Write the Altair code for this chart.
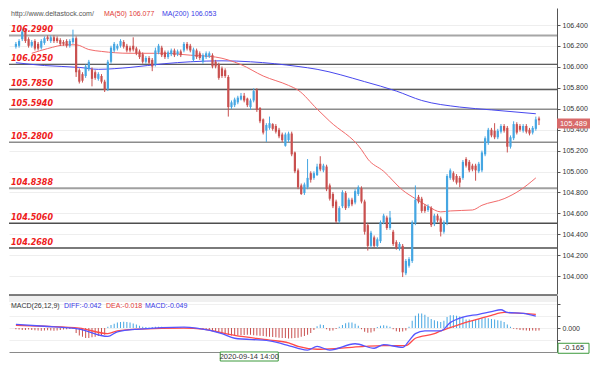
import altair as alt
import pandas as pd

# ---------------- data ----------------
opens = [106.193,106.202,106.265,106.347,106.265,106.202,106.247,106.220,106.184,106.229,
         106.283,106.247,106.283,106.274,106.256,106.238,106.247,106.202,106.238,106.274,
         105.968,105.931,105.913,105.977,105.977,105.949,105.886,105.913,105.859,105.787,
         106.049,106.157,106.175,106.202,106.238,106.202,106.184,106.202,106.175,106.148,
         106.121,106.049,106.085,106.067,106.022,106.139,106.184,106.139,106.094,106.121,
         106.157,106.121,106.148,106.157,106.220,106.202,106.067,106.157,106.130,106.049,
         106.094,106.103,106.112,106.049,106.022,105.986,105.968,105.904,105.616,105.634,
         105.661,105.688,105.724,105.697,105.616,105.679,105.778,105.607,105.498,105.390,
         105.417,105.453,105.435,105.399,105.354,105.246,105.300,105.363,105.182,105.011,
         104.867,104.794,104.849,104.984,104.939,104.966,105.074,105.011,105.047,104.867,
         104.785,104.713,104.523,104.668,104.794,104.668,104.731,104.704,104.785,104.840,
         104.713,104.487,104.289,104.370,104.289,104.334,104.514,104.560,104.460,104.424,
         104.325,104.262,104.289,104.027,104.099,104.145,104.505,104.758,104.740,104.668,
         104.632,104.650,104.496,104.578,104.551,104.424,104.505,104.939,104.984,104.957,
         104.939,104.939,105.119,105.092,105.056,105.056,105.002,105.011,105.164,105.273,
         105.399,105.390,105.327,105.381,105.435,105.417,105.237,105.318,105.453,105.435,
         105.390,105.435,105.399,105.372,105.408,105.507]
highs = [106.238,106.265,106.365,106.365,106.283,106.256,106.265,106.238,106.265,106.292,
         106.302,106.302,106.302,106.292,106.274,106.256,106.265,106.265,106.356,106.292,
         105.986,105.949,106.022,106.067,105.995,105.968,105.949,105.931,105.877,106.067,
         106.202,106.238,106.220,106.265,106.256,106.220,106.202,106.283,106.193,106.166,
         106.139,106.103,106.103,106.085,106.184,106.220,106.202,106.157,106.157,106.175,
         106.175,106.166,106.166,106.238,106.238,106.220,106.184,106.175,106.148,106.130,
         106.148,106.148,106.130,106.067,106.040,106.004,105.986,105.922,105.679,105.706,
         105.724,105.751,105.751,105.706,105.697,105.796,105.796,105.616,105.507,105.462,
         105.525,105.462,105.453,105.417,105.372,105.372,105.381,105.381,105.191,105.029,
         104.885,104.894,105.119,105.002,105.002,105.074,105.146,105.074,105.065,104.885,
         104.803,104.731,104.668,104.821,104.812,104.749,104.749,104.831,104.867,104.858,
         104.731,104.505,104.433,104.388,104.370,104.532,104.596,104.578,104.623,104.442,
         104.343,104.325,104.307,104.163,104.181,104.532,104.867,104.776,104.758,104.686,
         104.686,104.668,104.596,104.596,104.569,104.532,104.975,105.029,105.002,104.975,
         104.957,105.110,105.137,105.110,105.074,105.074,105.092,105.200,105.336,105.417,
         105.417,105.462,105.408,105.453,105.453,105.435,105.345,105.480,105.471,105.453,
         105.453,105.453,105.417,105.435,105.525,105.525]
lows = [106.175,106.184,106.247,106.229,106.184,106.184,106.157,106.157,106.166,106.211,
        106.247,106.229,106.229,106.229,106.202,106.202,106.184,106.184,106.220,105.904,
        105.841,105.850,105.895,105.959,105.814,105.877,105.868,105.841,105.760,105.769,
        106.031,106.139,106.157,106.184,106.175,106.139,106.139,106.148,106.112,106.076,
        106.031,106.031,106.022,105.959,106.004,106.121,106.094,106.076,106.076,106.103,
        106.094,106.103,106.094,106.139,106.157,106.139,106.049,106.076,106.067,106.031,
        106.076,106.085,105.986,105.986,105.877,105.895,105.895,105.525,105.598,105.616,
        105.643,105.679,105.661,105.616,105.589,105.661,105.570,105.462,105.354,105.282,
        105.399,105.390,105.363,105.318,105.282,105.237,105.282,105.146,104.984,104.831,
        104.776,104.776,104.831,104.894,104.921,104.957,105.002,104.993,104.812,104.722,
        104.650,104.505,104.505,104.650,104.632,104.650,104.668,104.686,104.767,104.695,
        104.397,104.244,104.271,104.271,104.271,104.316,104.496,104.442,104.442,104.289,
        104.253,104.244,103.991,104.009,104.081,104.126,104.487,104.695,104.605,104.605,
        104.614,104.469,104.478,104.514,104.379,104.406,104.487,104.921,104.903,104.876,
        104.849,104.921,105.038,104.993,105.002,104.912,104.984,104.993,105.146,105.255,
        105.327,105.309,105.309,105.363,105.372,105.182,105.219,105.300,105.354,105.381,
        105.372,105.363,105.345,105.354,105.390,105.444]
closes = [106.220,106.247,106.338,106.247,106.202,106.238,106.175,106.175,106.247,106.274,
          106.265,106.283,106.247,106.247,106.220,106.220,106.202,106.247,106.274,105.949,
          105.859,105.868,106.004,106.049,105.886,105.895,105.931,105.859,105.778,106.049,
          106.184,106.220,106.202,106.247,106.193,106.157,106.157,106.166,106.130,106.094,
          106.049,106.085,106.040,106.004,106.157,106.202,106.112,106.094,106.139,106.157,
          106.112,106.148,106.112,106.220,106.175,106.157,106.166,106.094,106.085,106.112,
          106.130,106.130,106.004,106.004,105.895,105.913,105.913,105.616,105.661,105.688,
          105.706,105.724,105.679,105.634,105.679,105.769,105.589,105.480,105.372,105.444,
          105.462,105.408,105.381,105.336,105.300,105.354,105.363,105.164,105.002,104.849,
          104.785,104.876,104.939,104.921,104.984,105.047,105.020,105.056,104.831,104.740,
          104.668,104.523,104.650,104.803,104.650,104.731,104.686,104.812,104.849,104.713,
          104.424,104.289,104.415,104.289,104.352,104.514,104.578,104.460,104.560,104.307,
          104.271,104.307,104.036,104.145,104.163,104.514,104.731,104.713,104.623,104.623,
          104.668,104.487,104.578,104.532,104.424,104.514,104.957,105.011,104.921,104.894,
          104.894,105.092,105.056,105.011,105.020,105.011,105.074,105.182,105.318,105.399,
          105.345,105.327,105.390,105.435,105.390,105.237,105.327,105.453,105.372,105.399,
          105.435,105.381,105.363,105.417,105.498,105.489]

ma50_idx = [5,10,16,19,23,27,36,47,55,63,71,78,86,89,95,99,109,111,116,122,126,130,134,137,144,147,154,159,164]
ma50_val = [106.130,106.175,106.211,106.211,106.166,106.148,106.130,106.130,106.112,106.094,106.022,
            105.913,105.823,105.778,105.597,105.480,105.209,105.119,105.002,104.821,104.740,104.668,
            104.614,104.623,104.632,104.677,104.740,104.821,104.939]
ma200_idx = [0,9,20,26,36,47,55,65,74,89,95,110,120,128,140,150,164]
ma200_val = [106.040,106.013,105.995,105.977,105.995,106.031,106.049,106.058,106.049,106.004,
             105.977,105.859,105.769,105.679,105.616,105.589,105.552]

hist = ([-0.010,-0.012,-0.015,-0.015,-0.012,-0.015]
        + [-0.018,-0.020,-0.022,-0.020,-0.018,-0.020,-0.022,-0.020,-0.015,-0.012]
        + [-0.010,-0.008,-0.005]
        + [-0.040,-0.060,-0.070,-0.080,-0.080,-0.075,-0.070,-0.065,-0.060,-0.055]
        + [0.010,0.025,0.035,0.045,0.050,0.052,0.050,0.045,0.038,0.030]
        + [0.020,0.012,0.008,0.005,0.008,0.010,0.012,0.010,0.008,0.006,0.005,0.004,0.003,0.004,0.005,0.003,0.002,0.001]
        + [-0.003,-0.006,-0.010,-0.015,-0.020,-0.025,-0.030,-0.035,-0.040,-0.045,-0.055,-0.060,-0.062,
           -0.060,-0.058,-0.056,-0.055,-0.055,-0.058,-0.060,-0.062,-0.065,-0.068,-0.070,-0.072,-0.075,
           -0.078,-0.080,-0.082,-0.085,-0.083,-0.080,-0.078]
        + [-0.070,-0.065,-0.055,-0.040]
        + [-0.015]
        + [0.015,0.030,0.025]
        + [-0.010,-0.022,-0.020]
        + [-0.008]
        + [0.010,0.025,0.040,0.045,0.045,0.035,0.020]
        + [-0.010,-0.030,-0.038,-0.035,-0.025]
        + [0.008,0.020,0.023,0.020,0.012]
        + [-0.010,-0.025,-0.030,-0.028,-0.020]
        + [0.010,0.060,0.100,0.120,0.120,0.110]
        + [0.090,0.075,0.065,0.055,0.050]
        + [0.060,0.090,0.105,0.105,0.100,0.095,0.090]
        + [0.070,0.070,0.065,0.070,0.075,0.080,0.085,0.080,0.075,0.070,0.065,0.060,0.050]
        + [0.030,0.010]
        + [-0.005,-0.010,-0.015,-0.018,-0.020,-0.022,-0.020,-0.022,-0.020])

diff_idx = [0,9,20,29,32,39,53,57,65,69,80,86,89,92,95,99,107,113,116,122,124,126,129,134,137,141,146,150,153,155,160,164]
diff_val = [0.030,0.015,-0.008,-0.068,-0.030,-0.008,0.008,0.000,-0.045,-0.083,-0.105,-0.143,-0.165,
            -0.180,-0.150,-0.180,-0.128,-0.165,-0.135,-0.158,-0.105,-0.045,-0.023,-0.023,0.045,0.090,
            0.113,0.135,0.150,0.128,0.120,0.098]
dea_idx = [0,9,20,29,32,39,53,59,69,80,86,89,95,102,110,116,123,126,132,134,140,146,150,154,160,164]
dea_val = [0.023,0.015,0.000,-0.045,-0.023,-0.008,0.000,-0.008,-0.060,-0.098,-0.120,-0.150,-0.173,
           -0.165,-0.150,-0.143,-0.143,-0.083,-0.045,-0.023,0.030,0.075,0.105,0.128,0.120,0.113]

level_vals = [106.2990, 106.0250, 105.7850, 105.5940, 105.2800, 104.8388, 104.5060, 104.2680]
level_text = ["106.2990", "106.0250", "105.7850", "105.5940", "105.2800", "104.8388", "104.5060", "104.2680"]
level_color = ["#a6a6a6", "#2e2e2e", "#5a5a5a", "#8c8c8c", "#8c8c8c", "#a0a0a0", "#4e4e4e", "#4e4e4e"]
level_width = [2, 1, 1.5, 1.5, 1.5, 2, 1.5, 1.5]

price_ticks = [104.0, 104.2, 104.4, 104.6, 104.8, 105.0, 105.2, 105.4, 105.6, 105.8, 106.0, 106.2, 106.4]
last_price = 105.489
last_box_center = 105.458
macd_marker = -0.165
crosshair_idx = 73.6
crosshair_label = "2020-09-14 14:00"

N = len(closes)
assert len(opens) == N and len(highs) == N and len(lows) == N and len(hist) == N

# ---------------- layout ----------------
W, HP, HM = 548, 286, 57
X_DOM = [-0.6, 169.1]
P_DOM = [103.829, 106.563]
M_DOM = [-0.1955, 0.2707]
UP, DOWN = "#45a6e2", "#c9504f"
FONT = "Liberation Sans"

candles = pd.DataFrame({"i": list(range(N)), "o": opens, "h": highs, "l": lows, "c": closes})
candles["dir"] = ["up" if c >= o else "down" for o, c in zip(opens, closes)]
ma50 = pd.DataFrame({"i": ma50_idx, "v": ma50_val})
ma200 = pd.DataFrame({"i": ma200_idx, "v": ma200_val})
levels = pd.DataFrame({"v": level_vals, "t": level_text, "col": level_color, "w": level_width})
histdf = pd.DataFrame({"i": list(range(N)), "h": hist})
histdf["sign"] = ["pos" if v >= 0 else "neg" for v in hist]
diffdf = pd.DataFrame({"i": diff_idx, "v": diff_val})
deadf = pd.DataFrame({"i": dea_idx, "v": dea_val})

xs = alt.Scale(domain=X_DOM, nice=False, zero=False)
ys_p = alt.Scale(domain=P_DOM, nice=False, zero=False)
ys_m = alt.Scale(domain=M_DOM, nice=False, zero=False)

y_axis_p = alt.Axis(orient="right", values=price_ticks, format=".3f", labelFontSize=7, labelFont=FONT,
                    labelColor="#333333", tickSize=3, tickColor="#555555", domainColor="#555555",
                    grid=True, gridColor="#eeeeee", labelPadding=2, title=None)
y_axis_m = alt.Axis(orient="right", values=[-0.1, 0.0, 0.1, 0.2],
                    labelExpr="datum.value == 0 ? '0.000' : ''", labelFontSize=7, labelFont=FONT,
                    labelColor="#333333", tickSize=3, tickColor="#555555", domainColor="#555555",
                    grid=True, gridColor="#f0f0f0", labelPadding=2, title=None)

def xp(field="i"):
    return alt.X(f"{field}:Q", scale=xs, axis=None)

def xm(field="i"):
    return alt.X(f"{field}:Q", scale=xs, axis=alt.Axis(labels=False, ticks=False, grid=False,
                                                       domain=True, domainColor="#8a8a8a", title=None))

def yp(field):
    return alt.Y(f"{field}:Q", scale=ys_p, axis=y_axis_p)

def ym(field):
    return alt.Y(f"{field}:Q", scale=ys_m, axis=y_axis_m)

dir_color = alt.Color("dir:N", scale=alt.Scale(domain=["up", "down"], range=[UP, DOWN]), legend=None)

lv_rules = alt.Chart(levels).mark_rule().encode(
    y=yp("v"), color=alt.Color("col:N", scale=None), strokeWidth=alt.StrokeWidth("w:Q", scale=None))
ma200_line = alt.Chart(ma200).mark_line(color="#4848ee", strokeWidth=1, interpolate="monotone").encode(
    x=xp(), y=yp("v"))
ma50_line = alt.Chart(ma50).mark_line(color="#f26a6a", strokeWidth=1, interpolate="monotone").encode(
    x=xp(), y=yp("v"))
wicks = alt.Chart(candles).mark_rule(strokeWidth=1).encode(x=xp(), y=yp("l"), y2="h", color=dir_color)
bodies = alt.Chart(candles).mark_bar(width=2.2).encode(x=xp(), y=yp("o"), y2="c", color=dir_color)
lv_text = alt.Chart(levels).mark_text(align="left", baseline="alphabetic", dy=-3.5, font="DejaVu Sans",
                                      fontStyle="italic", fontWeight="bold", fontSize=8,
                                      color="#ee1c1c").encode(x=alt.value(2), y=yp("v"), text="t:N")

def label(txt, px, py, color, size=7):
    return alt.Chart(pd.DataFrame({"t": [txt]})).mark_text(
        align="left", baseline="middle", font=FONT, fontSize=size, color=color).encode(
        x=alt.value(px), y=alt.value(py), text="t:N")

header = [label("http://www.deltastock.com/", 2, 5.5, "#555555"),
          label("MA(50)", 95, 5.5, "#e23a36"), label("106.077", 120, 5.5, "#e23a36"),
          label("MA(200)", 153, 5.5, "#3a3ae6"), label("106.053", 182, 5.5, "#3a3ae6")]

lp = pd.DataFrame({"p": [last_box_center], "t": [f"{last_price:.3f}"]})
last_box = alt.Chart(lp).mark_tick(color="#d86a6a", thickness=10, size=33, opacity=1).encode(
    x=alt.value(W + 16.5), y=yp("p"))
last_txt = alt.Chart(lp).mark_text(font=FONT, fontSize=7.5, color="#ffffff", baseline="middle").encode(
    x=alt.value(W + 16.5), y=yp("p"), text="t:N")

price = alt.layer(lv_rules, ma200_line, ma50_line, wicks, bodies, lv_text, *header, last_box, last_txt
                  ).properties(width=W, height=HP)

# ---------------- MACD panel ----------------
band = alt.Chart(pd.DataFrame({"a": [0]})).mark_rect(color="#f0f0f0").encode(
    x=alt.value(0), x2=alt.value(W), y=alt.value(0), y2=alt.value(7))
topline = alt.Chart(pd.DataFrame({"a": [0]})).mark_rule(color="#555555", strokeWidth=1.5).encode(
    x=alt.value(0), x2=alt.value(W), y=alt.value(0))
bars = alt.Chart(histdf).mark_bar(width=1).encode(
    x=xm(), y=ym("h"), y2=alt.datum(0),
    color=alt.Color("sign:N", scale=alt.Scale(domain=["pos", "neg"], range=["#7cc2ea", "#d68a8a"]), legend=None))
dea_line = alt.Chart(deadf).mark_line(color="#ff4a4a", strokeWidth=1.3, interpolate="monotone").encode(
    x=xm(), y=ym("v"))
diff_line = alt.Chart(diffdf).mark_line(color="#5555ff", strokeWidth=1.3, interpolate="monotone").encode(
    x=xm(), y=ym("v"))
mheader = [label("MACD(26,12,9)", 2, 11, "#333333"), label("DIFF:-0.042", 55, 11, "#3a3ae6"),
           label("DEA:-0.018", 97, 11, "#e23a36"), label("MACD:-0.049", 136, 11, "#3a3ae6")]
mk = pd.DataFrame({"v": [macd_marker], "t": [f"{macd_marker:.3f}"]})
mk_box = alt.Chart(mk).mark_tick(fill="#ffffff", stroke="#3c9a3c", strokeWidth=1, thickness=10, size=31,
                                 opacity=1).encode(x=alt.value(W + 16.5), y=ym("v"))
mk_txt = alt.Chart(mk).mark_text(font=FONT, fontSize=7.5, color="#333333", baseline="middle").encode(
    x=alt.value(W + 16.5), y=ym("v"), text="t:N")
ch = pd.DataFrame({"i": [crosshair_idx], "t": [crosshair_label]})
ch_box = alt.Chart(ch).mark_tick(orient="horizontal", fill="#ffffff", stroke="#3c9a3c", strokeWidth=1,
                                 thickness=9, size=58, opacity=1).encode(x=xm(), y=alt.value(HM + 4.5))
ch_txt = alt.Chart(ch).mark_text(font=FONT, fontSize=7.5, color="#333333", baseline="middle").encode(
    x=xm(), y=alt.value(HM + 5), text="t:N")

macd = alt.layer(band, topline, bars, dea_line, diff_line, *mheader, mk_box, mk_txt, ch_box, ch_txt
                 ).properties(width=W, height=HM)

chart = alt.vconcat(price, macd, spacing=0).properties(padding=0).configure_view(stroke=None)
chart.save("out.html", embed_options={"renderer": "svg", "actions": False})
